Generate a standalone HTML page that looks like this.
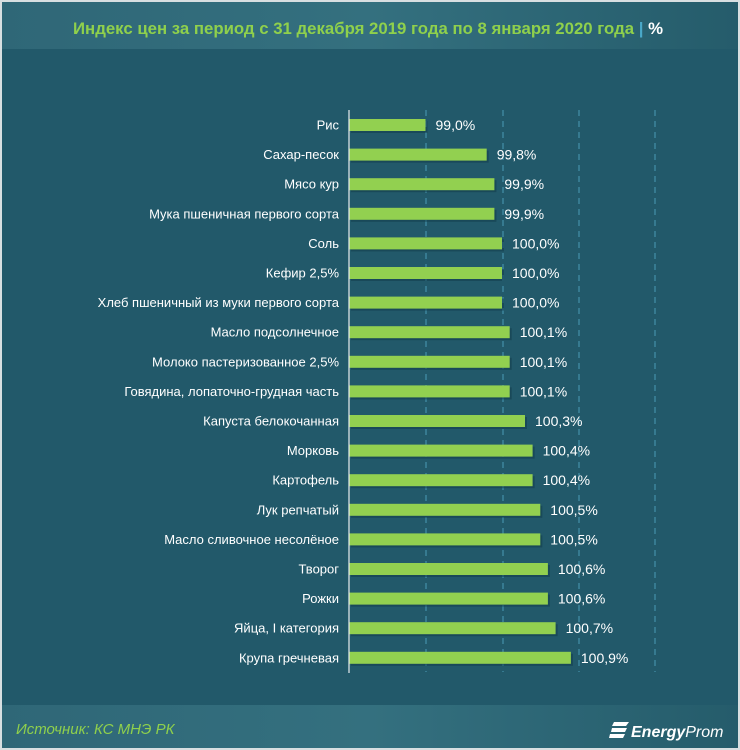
<!DOCTYPE html>
<html><head><meta charset="utf-8"><style>
html,body{margin:0;padding:0;background:#fff}
svg{display:block}
text{font-family:"Liberation Sans Narrow","Liberation Sans",sans-serif}
.l{font-size:13px;fill:#fff;text-anchor:end}
.v{font-size:14px;fill:#fff}
.b{fill:#92d050}
.s{fill:#0f3a47;opacity:.5}
</style></head><body>
<svg width="740" height="750" viewBox="0 0 740 750" xmlns="http://www.w3.org/2000/svg">
<defs>
<linearGradient id="hg" x1="0" x2="1" y1="0" y2="0"><stop offset="0" stop-color="#2f6777"/><stop offset="0.5" stop-color="#34707f"/><stop offset="1" stop-color="#255c6b"/></linearGradient>
</defs>
<rect x="0" y="0" width="740" height="750" fill="#d8dfe1"/>
<rect x="2" y="2" width="736" height="746" fill="#22596a"/>
<rect x="2" y="2" width="736" height="47" fill="url(#hg)"/>
<rect x="2" y="705" width="736" height="43" fill="url(#hg)"/>
<text x="368" y="34" text-anchor="middle" font-size="17" fill="#8fd04c" font-weight="bold" textLength="590" lengthAdjust="spacingAndGlyphs">Индекс цен за период с 31 декабря 2019 года по 8 января 2020 года <tspan fill="#4aa8c8">|</tspan> <tspan fill="#ffffff">%</tspan></text>
<g stroke="#4a9bb5" stroke-width="1" stroke-dasharray="6,5">
<line x1="426" y1="110" x2="426" y2="672"/><line x1="503" y1="110" x2="503" y2="672"/><line x1="579" y1="110" x2="579" y2="672"/><line x1="655" y1="110" x2="655" y2="672"/>
</g>

<g transform="translate(0,125)"><rect class="s" x="351" y="-4" width="76.5" height="12"/><rect class="b" x="349" y="-6" width="76.5" height="12"/><text class="l" x="339" y="4.5">Рис</text><text class="v" x="435.5" y="5">99,0%</text></g>
<g transform="translate(0,154.6)"><rect class="s" x="351" y="-4" width="137.7" height="12"/><rect class="b" x="349" y="-6" width="137.7" height="12"/><text class="l" x="339" y="4.5">Сахар-песок</text><text class="v" x="496.7" y="5">99,8%</text></g>
<g transform="translate(0,184.2)"><rect class="s" x="351" y="-4" width="145.4" height="12"/><rect class="b" x="349" y="-6" width="145.4" height="12"/><text class="l" x="339" y="4.5">Мясо кур</text><text class="v" x="504.4" y="5">99,9%</text></g>
<g transform="translate(0,213.8)"><rect class="s" x="351" y="-4" width="145.4" height="12"/><rect class="b" x="349" y="-6" width="145.4" height="12"/><text class="l" x="339" y="4.5">Мука пшеничная первого сорта</text><text class="v" x="504.4" y="5">99,9%</text></g>
<g transform="translate(0,243.4)"><rect class="s" x="351" y="-4" width="153" height="12"/><rect class="b" x="349" y="-6" width="153" height="12"/><text class="l" x="339" y="4.5">Соль</text><text class="v" x="512" y="5">100,0%</text></g>
<g transform="translate(0,273)"><rect class="s" x="351" y="-4" width="153" height="12"/><rect class="b" x="349" y="-6" width="153" height="12"/><text class="l" x="339" y="4.5">Кефир 2,5%</text><text class="v" x="512" y="5">100,0%</text></g>
<g transform="translate(0,302.6)"><rect class="s" x="351" y="-4" width="153" height="12"/><rect class="b" x="349" y="-6" width="153" height="12"/><text class="l" x="339" y="4.5">Хлеб пшеничный из муки первого сорта</text><text class="v" x="512" y="5">100,0%</text></g>
<g transform="translate(0,332.2)"><rect class="s" x="351" y="-4" width="160.7" height="12"/><rect class="b" x="349" y="-6" width="160.7" height="12"/><text class="l" x="339" y="4.5">Масло подсолнечное</text><text class="v" x="519.7" y="5">100,1%</text></g>
<g transform="translate(0,361.8)"><rect class="s" x="351" y="-4" width="160.7" height="12"/><rect class="b" x="349" y="-6" width="160.7" height="12"/><text class="l" x="339" y="4.5">Молоко пастеризованное 2,5%</text><text class="v" x="519.7" y="5">100,1%</text></g>
<g transform="translate(0,391.4)"><rect class="s" x="351" y="-4" width="160.7" height="12"/><rect class="b" x="349" y="-6" width="160.7" height="12"/><text class="l" x="339" y="4.5">Говядина, лопаточно-грудная часть</text><text class="v" x="519.7" y="5">100,1%</text></g>
<g transform="translate(0,421)"><rect class="s" x="351" y="-4" width="176" height="12"/><rect class="b" x="349" y="-6" width="176" height="12"/><text class="l" x="339" y="4.5">Капуста белокочанная</text><text class="v" x="535" y="5">100,3%</text></g>
<g transform="translate(0,450.6)"><rect class="s" x="351" y="-4" width="183.6" height="12"/><rect class="b" x="349" y="-6" width="183.6" height="12"/><text class="l" x="339" y="4.5">Морковь</text><text class="v" x="542.6" y="5">100,4%</text></g>
<g transform="translate(0,480.2)"><rect class="s" x="351" y="-4" width="183.6" height="12"/><rect class="b" x="349" y="-6" width="183.6" height="12"/><text class="l" x="339" y="4.5">Картофель</text><text class="v" x="542.6" y="5">100,4%</text></g>
<g transform="translate(0,509.8)"><rect class="s" x="351" y="-4" width="191.3" height="12"/><rect class="b" x="349" y="-6" width="191.3" height="12"/><text class="l" x="339" y="4.5">Лук репчатый</text><text class="v" x="550.3" y="5">100,5%</text></g>
<g transform="translate(0,539.4)"><rect class="s" x="351" y="-4" width="191.3" height="12"/><rect class="b" x="349" y="-6" width="191.3" height="12"/><text class="l" x="339" y="4.5">Масло сливочное несолёное</text><text class="v" x="550.3" y="5">100,5%</text></g>
<g transform="translate(0,569)"><rect class="s" x="351" y="-4" width="198.9" height="12"/><rect class="b" x="349" y="-6" width="198.9" height="12"/><text class="l" x="339" y="4.5">Творог</text><text class="v" x="557.9" y="5">100,6%</text></g>
<g transform="translate(0,598.6)"><rect class="s" x="351" y="-4" width="198.9" height="12"/><rect class="b" x="349" y="-6" width="198.9" height="12"/><text class="l" x="339" y="4.5">Рожки</text><text class="v" x="557.9" y="5">100,6%</text></g>
<g transform="translate(0,628.2)"><rect class="s" x="351" y="-4" width="206.6" height="12"/><rect class="b" x="349" y="-6" width="206.6" height="12"/><text class="l" x="339" y="4.5">Яйца, I категория</text><text class="v" x="565.6" y="5">100,7%</text></g>
<g transform="translate(0,657.8)"><rect class="s" x="351" y="-4" width="221.9" height="12"/><rect class="b" x="349" y="-6" width="221.9" height="12"/><text class="l" x="339" y="4.5">Крупа гречневая</text><text class="v" x="580.9" y="5">100,9%</text></g>

<line x1="349" y1="110" x2="349" y2="673" stroke="#e8eef0" stroke-width="1.2"/>
<text x="16" y="734" font-size="15" font-style="italic" fill="#8fd04c">Источник: КС МНЭ РК</text>
<g fill="#ffffff">
<path d="M614 722h15l-3 4h-14zM612 728h15l-2 4h-14zM610 734h15l-2 4h-14z"/>
<text x="631" y="737" font-size="16" font-style="italic" font-weight="bold">Energy<tspan font-weight="normal">Prom</tspan></text>
</g>
</svg>
</body></html>
